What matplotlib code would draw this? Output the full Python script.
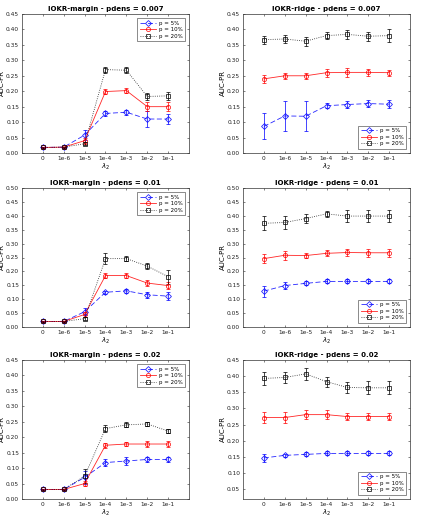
import numpy as np
import matplotlib
matplotlib.use('Agg')
import matplotlib.pyplot as plt

lam_labels = ['0', '1e-6', '1e-5', '1e-4', '1e-3', '1e-2', '1e-1']
series_names = ['p = 5%', 'p = 10%', 'p = 20%']

# IOKR-margin, pdens = 0.007
m007_p5 = [0.018, 0.019, 0.058, 0.128, 0.132, 0.110, 0.110]
m007_p5_err = [0.002, 0.002, 0.015, 0.007, 0.008, 0.025, 0.015]
m007_p10 = [0.018, 0.019, 0.040, 0.199, 0.202, 0.150, 0.150]
m007_p10_err = [0.002, 0.002, 0.010, 0.007, 0.007, 0.015, 0.015]
m007_p20 = [0.018, 0.019, 0.030, 0.270, 0.268, 0.183, 0.185]
m007_p20_err = [0.002, 0.002, 0.005, 0.010, 0.010, 0.012, 0.014]

# IOKR-ridge, pdens = 0.007
r007_p5 = [0.086, 0.120, 0.119, 0.153, 0.157, 0.160, 0.158]
r007_p5_err = [0.042, 0.048, 0.048, 0.008, 0.012, 0.012, 0.013]
r007_p10 = [0.240, 0.250, 0.250, 0.260, 0.261, 0.261, 0.260]
r007_p10_err = [0.014, 0.010, 0.010, 0.013, 0.014, 0.012, 0.010]
r007_p20 = [0.367, 0.369, 0.362, 0.380, 0.384, 0.378, 0.380]
r007_p20_err = [0.013, 0.014, 0.014, 0.012, 0.014, 0.014, 0.022]

# IOKR-margin, pdens = 0.01
m01_p5 = [0.020, 0.020, 0.055, 0.125, 0.130, 0.116, 0.111]
m01_p5_err = [0.002, 0.002, 0.012, 0.005, 0.008, 0.010, 0.014]
m01_p10 = [0.020, 0.020, 0.045, 0.185, 0.185, 0.158, 0.149]
m01_p10_err = [0.002, 0.002, 0.008, 0.010, 0.010, 0.010, 0.012]
m01_p20 = [0.020, 0.020, 0.030, 0.246, 0.246, 0.219, 0.181]
m01_p20_err = [0.002, 0.002, 0.005, 0.020, 0.010, 0.012, 0.025]

# IOKR-ridge, pdens = 0.01
r01_p5 = [0.129, 0.149, 0.157, 0.164, 0.164, 0.164, 0.164]
r01_p5_err = [0.020, 0.012, 0.007, 0.007, 0.007, 0.007, 0.007]
r01_p10 = [0.246, 0.258, 0.257, 0.265, 0.268, 0.267, 0.267]
r01_p10_err = [0.015, 0.017, 0.010, 0.011, 0.013, 0.015, 0.015]
r01_p20 = [0.373, 0.376, 0.390, 0.407, 0.399, 0.399, 0.399]
r01_p20_err = [0.025, 0.025, 0.016, 0.012, 0.022, 0.022, 0.022]

# IOKR-margin, pdens = 0.02
m02_p5 = [0.031, 0.031, 0.070, 0.118, 0.123, 0.128, 0.128]
m02_p5_err = [0.002, 0.002, 0.020, 0.012, 0.012, 0.008, 0.008]
m02_p10 = [0.031, 0.031, 0.050, 0.174, 0.178, 0.178, 0.178]
m02_p10_err = [0.002, 0.002, 0.007, 0.008, 0.008, 0.009, 0.009]
m02_p20 = [0.031, 0.031, 0.074, 0.228, 0.240, 0.243, 0.220]
m02_p20_err = [0.002, 0.002, 0.022, 0.010, 0.008, 0.007, 0.007]

# IOKR-ridge, pdens = 0.02
r02_p5 = [0.147, 0.155, 0.158, 0.161, 0.161, 0.161, 0.161]
r02_p5_err = [0.013, 0.005, 0.006, 0.006, 0.006, 0.006, 0.006]
r02_p10 = [0.272, 0.272, 0.281, 0.281, 0.275, 0.275, 0.275]
r02_p10_err = [0.016, 0.016, 0.015, 0.013, 0.012, 0.012, 0.012]
r02_p20 = [0.393, 0.396, 0.407, 0.383, 0.365, 0.364, 0.364]
r02_p20_err = [0.020, 0.017, 0.018, 0.015, 0.018, 0.020, 0.020]

panels = [
    ('IOKR-margin - pdens = 0.007', (m007_p5, m007_p10, m007_p20),
     (m007_p5_err, m007_p10_err, m007_p20_err), (0, 0.45), 'upper right'),
    ('IOKR-ridge - pdens = 0.007', (r007_p5, r007_p10, r007_p20),
     (r007_p5_err, r007_p10_err, r007_p20_err), (0, 0.45), 'lower right'),
    ('IOKR-margin - pdens = 0.01', (m01_p5, m01_p10, m01_p20),
     (m01_p5_err, m01_p10_err, m01_p20_err), (0, 0.5), 'upper right'),
    ('IOKR-ridge - pdens = 0.01', (r01_p5, r01_p10, r01_p20),
     (r01_p5_err, r01_p10_err, r01_p20_err), (0, 0.5), 'lower right'),
    ('IOKR-margin - pdens = 0.02', (m02_p5, m02_p10, m02_p20),
     (m02_p5_err, m02_p10_err, m02_p20_err), (0, 0.45), 'upper right'),
    ('IOKR-ridge - pdens = 0.02', (r02_p5, r02_p10, r02_p20),
     (r02_p5_err, r02_p10_err, r02_p20_err), (0.02, 0.45), 'lower right'),
]

styles = [('#0000ff', 'D', (0, (6, 3))), ('#ff0000', 'o', '-'), ('#000000', 's', ':')]

lefts = [22 / 422, 243 / 422]
width = 167 / 422
bottoms = [1 - 153 / 522, 1 - 327 / 522, 1 - 499 / 522]
height = 139 / 522

plt.rcParams['font.family'] = 'DejaVu Sans'
fig = plt.figure(figsize=(4.22, 5.22), dpi=100)
x = np.arange(1, 8)

for i, (title, vals, errs, ylim, loc) in enumerate(panels):
    ax = fig.add_axes([lefts[i % 2], bottoms[i // 2], width, height])
    handles = []
    for (c, mk, ls), y, e, name in zip(styles, vals, errs, series_names):
        cont = ax.errorbar(x, y, yerr=e, color=c, marker=mk, ms=3, mfc='none', mew=0.6,
                           ls=ls, lw=0.6, elinewidth=0.6, capsize=1.2, capthick=0.6,
                           label=name, alpha=0.85)
        handles.append(cont.lines[0])
    ax.set_xlim(0, 8)
    ax.set_xticks(x)
    ax.set_xticklabels(lam_labels)
    ax.set_yticks(np.round(np.arange(0, ylim[1] + 1e-9, 0.05), 2))
    ax.set_ylim(*ylim)
    ax.tick_params(direction='in', top=True, right=True, labelsize=4.2,
                   length=1.5, width=0.4, pad=2, colors='#222222')
    for s in ax.spines.values():
        s.set_linewidth(0.5)
        s.set_color('#333333')
    ax.set_title(title, fontsize=5, fontweight='bold', pad=2)
    ax.set_xlabel(r'$\lambda_2$', fontsize=5, labelpad=1)
    ax.set_ylabel('AUC-PR', fontsize=5, labelpad=1)
    leg = ax.legend(handles, series_names, loc=loc, fontsize=4, frameon=True,
                    fancybox=False, numpoints=1, handlelength=3.0, borderpad=0.4,
                    labelspacing=0.3, handletextpad=0.4, borderaxespad=0.8)
    leg.get_frame().set_linewidth(0.5)
    leg.get_frame().set_edgecolor('#333333')

fig.savefig('out.png', dpi=100)
